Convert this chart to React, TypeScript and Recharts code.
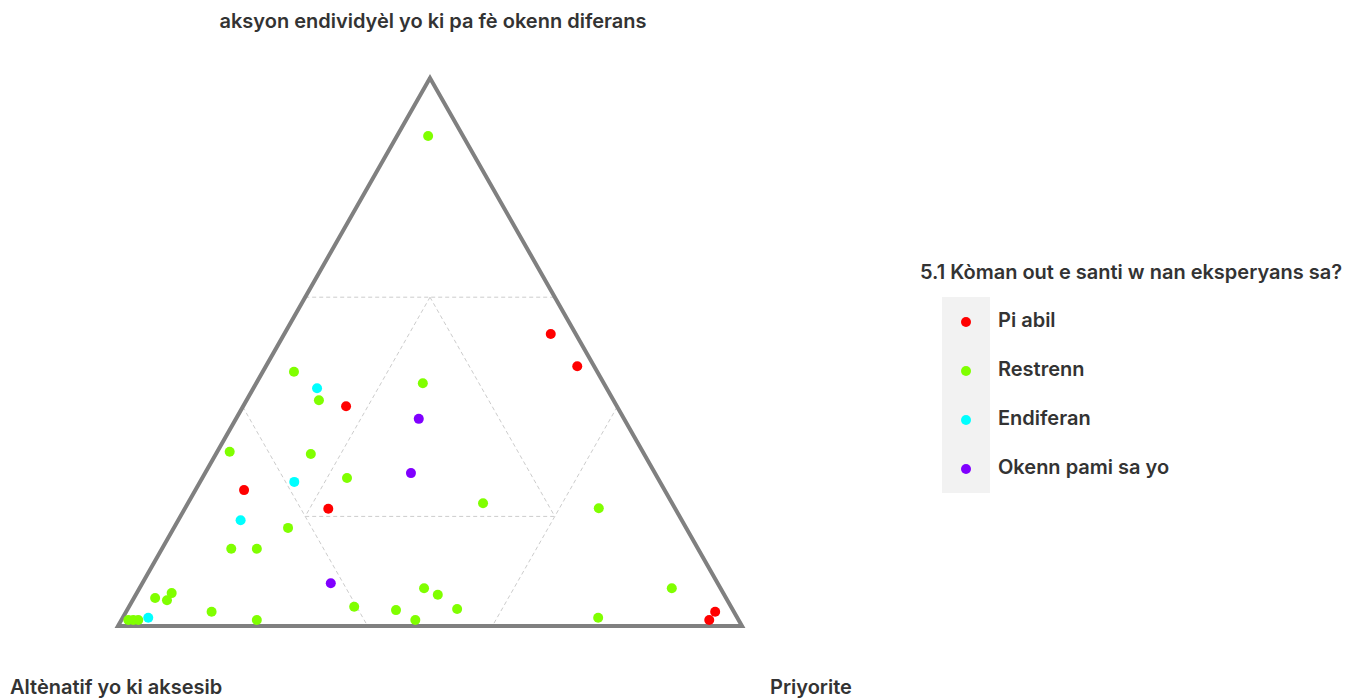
import React from 'react';
import { ScatterChart, Scatter, XAxis, YAxis, ReferenceLine, Legend, Customized } from 'recharts';

type T3 = [number, number, number]; // [top, left, right] in percent

const AXIS_TOP = 'aksyon endividyèl yo ki pa fè okenn diferans';
const AXIS_LEFT = 'Altènatif yo ki aksesib';
const AXIS_RIGHT = 'Priyorite';
const LEGEND_TITLE = '5.1 Kòman out e santi w nan eksperyans sa?';

const categories = ['Pi abil', 'Restrenn', 'Endiferan', 'Okenn pami sa yo'];
const colors = ['#ff0000', '#80ff00', '#00ffff', '#8000ff'];

const piAbil: T3[] = [
  [53.3, 4.0, 42.7], [47.4, 2.7, 49.9], [40.1, 43.4, 16.5], [24.8, 67.4, 7.8],
  [21.4, 55.6, 23.0], [2.6, 3.0, 94.4], [1.1, 4.7, 94.2],
];

const restrenn: T3[] = [
  [89.4, 5.6, 5.0], [46.4, 48.6, 5.0], [41.2, 47.2, 11.6], [44.3, 29.0, 26.7],
  [31.8, 66.2, 2.0], [31.4, 53.4, 15.2], [27.0, 49.8, 23.2], [22.4, 30.3, 47.3],
  [21.5, 12.2, 66.3], [17.9, 63.8, 18.3], [14.1, 74.8, 11.1], [14.1, 70.7, 15.2],
  [5.1, 91.5, 3.4], [4.7, 89.8, 5.5], [6.0, 88.4, 5.6], [2.6, 83.7, 13.7],
  [1.1, 77.2, 21.7], [3.5, 60.4, 36.1], [2.9, 54.0, 43.1], [6.9, 47.5, 45.6],
  [5.7, 45.9, 48.4], [3.1, 44.1, 52.8], [1.1, 51.8, 47.1], [1.5, 22.3, 76.2],
  [6.9, 7.8, 85.3], [1.1, 97.8, 1.1], [1.1, 97.0, 1.9], [1.1, 96.2, 2.7],
];

const endiferan: T3[] = [
  [43.4, 46.4, 10.2], [26.3, 58.6, 15.1], [19.3, 70.7, 10.0], [1.5, 94.4, 4.1],
];

const okennPamiSaYo: T3[] = [
  [37.8, 32.9, 29.3], [27.9, 39.1, 33.0], [7.8, 62.0, 30.2],
];

// triangle corners (top, left, right)
const corners: T3[] = [[0, 100, 0], [100, 0, 0], [0, 0, 100], [0, 100, 0], [100, 0, 0]];

// region grid lines, each a pair of ternary points
const gridLines: [T3, T3][] = [
  [[60, 40, 0], [60, 0, 40]],
  [[20, 60, 20], [20, 20, 60]],
  [[40, 60, 0], [0, 60, 40]],
  [[40, 0, 60], [0, 40, 60]],
  [[60, 20, 20], [20, 20, 60]],
  [[60, 20, 20], [20, 60, 20]],
];
const baseDashed: [T3, T3][] = [
  [[0, 100, 0], [0, 60, 40]],
  [[0, 40, 60], [0, 0, 100]],
];

const toXY = (t: T3) => {
  const s = t[0] + t[1] + t[2];
  const a = t[0] / s;
  const c = t[2] / s;
  return { x: c + a / 2, y: a };
};

const seriesData = [piAbil, restrenn, endiferan, okennPamiSaYo].map((arr) => arr.map(toXY));
const cornerData = corners.map(toXY);

const FONT = 'Inter, "Noto Sans", sans-serif';
const TEXT = '#333333';

const Dot = (props: any) => {
  const { cx, cy, fill } = props;
  if (cx == null || cy == null) return <g />;
  return <circle cx={cx} cy={cy} r={5} fill={fill} />;
};

const NoDot = () => <g />;

const AxisTitles = () => (
  <g fontFamily={FONT} fontWeight={600} fontSize={20} fill={TEXT}>
    <text x={433} y={21} textAnchor="middle" dominantBaseline="central">{AXIS_TOP}</text>
    <text x={10} y={687} textAnchor="start" dominantBaseline="central">{AXIS_LEFT}</text>
    <text x={770} y={687} textAnchor="start" dominantBaseline="central">{AXIS_RIGHT}</text>
  </g>
);

const renderLegend = (props: any) => {
  const payload = (props.payload || [])
    .filter((p: any) => categories.indexOf(p.value) >= 0)
    .sort((p: any, q: any) => categories.indexOf(p.value) - categories.indexOf(q.value));
  return (
    <div style={{ position: 'relative', width: 438, height: 240, fontFamily: FONT, color: TEXT }}>
      <div style={{ position: 'absolute', left: 0, top: 0, fontSize: 20, fontWeight: 600, lineHeight: '28px', whiteSpace: 'nowrap' }}>
        {LEGEND_TITLE}
      </div>
      <div style={{ position: 'absolute', left: 22, top: 39, width: 48, height: 196, background: '#f2f2f2' }} />
      {payload.map((p: any, i: number) => (
        <React.Fragment key={i}>
          <div style={{ position: 'absolute', left: 41, top: 64 + i * 49 - 5, width: 10, height: 10, borderRadius: 5, background: p.color }} />
          <div style={{ position: 'absolute', left: 78, top: 62 + i * 49 - 14, fontSize: 20, fontWeight: 600, lineHeight: '28px', whiteSpace: 'nowrap' }}>
            {p.value}
          </div>
        </React.Fragment>
      ))}
    </div>
  );
};

export default function App() {
  return (
    <div style={{ position: 'absolute', left: 0, top: 0, width: 1358, height: 698, background: '#ffffff' }}>
      <ScatterChart width={1358} height={698} margin={{ top: 78, right: 616, bottom: 72, left: 118 }}>
        <XAxis type="number" dataKey="x" domain={[0, 1]} hide />
        <YAxis type="number" dataKey="y" domain={[0, 1]} hide />
        {gridLines.map((g, i) => (
          <ReferenceLine
            key={'g' + i}
            segment={[toXY(g[0]), toXY(g[1])]}
            stroke="#cccccc"
            strokeWidth={1}
            strokeDasharray="4 3"
            ifOverflow="visible"
          />
        ))}
        <Scatter
          name="triangle"
          data={cornerData}
          legendType="none"
          shape={NoDot}
          line={{ stroke: '#808080', strokeWidth: 4, strokeLinejoin: 'miter', fill: 'none' }}
          isAnimationActive={false}
        />
        {baseDashed.map((g, i) => (
          <ReferenceLine
            key={'b' + i}
            segment={[toXY(g[0]), toXY(g[1])]}
            stroke="#e4e4e4"
            strokeWidth={1}
            strokeDasharray="4 3"
            ifOverflow="visible"
          />
        ))}
        {categories.map((name, i) => (
          <Scatter
            key={name}
            name={name}
            data={seriesData[i]}
            fill={colors[i]}
            shape={Dot}
            legendType="circle"
            isAnimationActive={false}
          />
        ))}
        <Legend
          layout="vertical"
          align="center"
          verticalAlign="middle"
          content={renderLegend}
          wrapperStyle={{ position: 'absolute', left: 920, top: 258, width: 438, height: 240 }}
        />
        <Customized component={AxisTitles} />
      </ScatterChart>
    </div>
  );
}
